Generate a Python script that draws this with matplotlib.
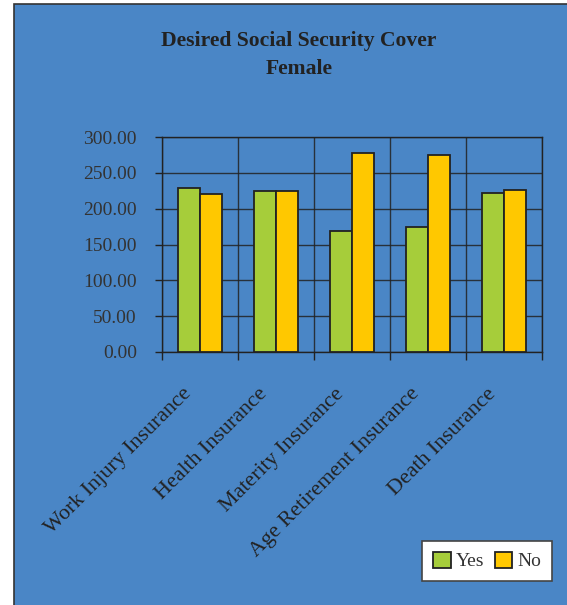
import matplotlib
matplotlib.use("Agg")
import matplotlib.pyplot as plt
import matplotlib.transforms as mtransforms
import numpy as np
from matplotlib.patches import Rectangle, Patch

# Desired social security cover among female respondents
categories = ["Work Injury Insurance", "Health Insurance", "Materity Insurance",
              "Age Retirement Insurance", "Death Insurance"]
yes_vals = [229, 224, 169, 174, 222]
no_vals = [220, 224, 277, 275, 226]
y_ticks = [0, 50, 100, 150, 200, 250, 300]

bg_blue = "#4a86c6"
c_yes = "#a6cd3a"
c_no = "#ffc800"
ink = "#222222"

plt.rcParams["font.family"] = ["Liberation Serif", "DejaVu Serif"]

fig = plt.figure(figsize=(5.67, 6.05), dpi=100, facecolor="white")

# blue chart area with dark frame on the left/top
fig.patches.append(Rectangle((14 / 567, -0.05), 1.1, (605 - 4) / 605 + 0.05,
                             transform=fig.transFigure, facecolor=bg_blue,
                             edgecolor="#333333", linewidth=1.2, zorder=-5))

ax = fig.add_axes([162 / 567, 1 - 352 / 605, 380 / 567, 215 / 605])
ax.set_facecolor(bg_blue)

x = np.arange(len(categories))
w = 0.285
ax.bar(x - w / 2, yes_vals, w, color=c_yes, edgecolor=ink, linewidth=1.3, zorder=3, label="Yes")
ax.bar(x + w / 2, no_vals, w, color=c_no, edgecolor=ink, linewidth=1.3, zorder=3, label="No")

ax.set_xlim(-0.5, len(categories) - 0.5)
ax.set_ylim(0, 300)
ax.set_yticks(y_ticks)
ax.set_yticklabels([f"{v:.2f}" for v in y_ticks], fontsize=14, color="#333333")
ax.set_xticks(x)
ax.set_xticklabels(categories, rotation=45, ha="right", va="top", fontsize=15.8,
                   color="#222222", rotation_mode="anchor")
ax.set_xticks(np.arange(-0.5, len(categories)), minor=True)
ax.tick_params(axis="x", which="major", length=0, pad=14)
ax.tick_params(axis="x", which="minor", length=6, width=1, color=ink, direction="out")
ax.tick_params(axis="y", length=5, width=1, color=ink, direction="out", pad=13)

# nudge the slanted labels left and down
shift = mtransforms.ScaledTranslation(-18 / 100, -13 / 100, fig.dpi_scale_trans)
for lab in ax.get_xticklabels():
    lab.set_transform(lab.get_transform() + shift)

ax.grid(True, axis="y", which="major", color=ink, linewidth=1, alpha=0.85, zorder=1)
ax.grid(True, axis="x", which="minor", color=ink, linewidth=1, alpha=0.85, zorder=1)
ax.set_axisbelow(True)
for s in ax.spines.values():
    s.set_color(ink)
    s.set_linewidth(1)

fig.text(299 / 567, 1 - 55 / 605, "Desired Social Security Cover\nFemale",
         ha="center", va="center", fontsize=15.6, fontweight="bold", color="#222222",
         linespacing=1.55)

handles = [Patch(facecolor=c_yes, edgecolor=ink, linewidth=1.3, label="Yes"),
           Patch(facecolor=c_no, edgecolor=ink, linewidth=1.3, label="No")]
leg = fig.legend(handles=handles, loc="center", ncol=2,
                 bbox_to_anchor=(487 / 567, 1 - 561 / 605), fontsize=14,
                 frameon=True, fancybox=False, edgecolor="#444444",
                 handlelength=0.9, handleheight=0.9, handletextpad=0.25,
                 columnspacing=0.55, borderpad=0.55, borderaxespad=0,
                 framealpha=1)
leg.get_frame().set_linewidth(1.2)
for t in leg.get_texts():
    t.set_color("#333333")

fig.savefig("out.png", dpi=100, facecolor="white")
